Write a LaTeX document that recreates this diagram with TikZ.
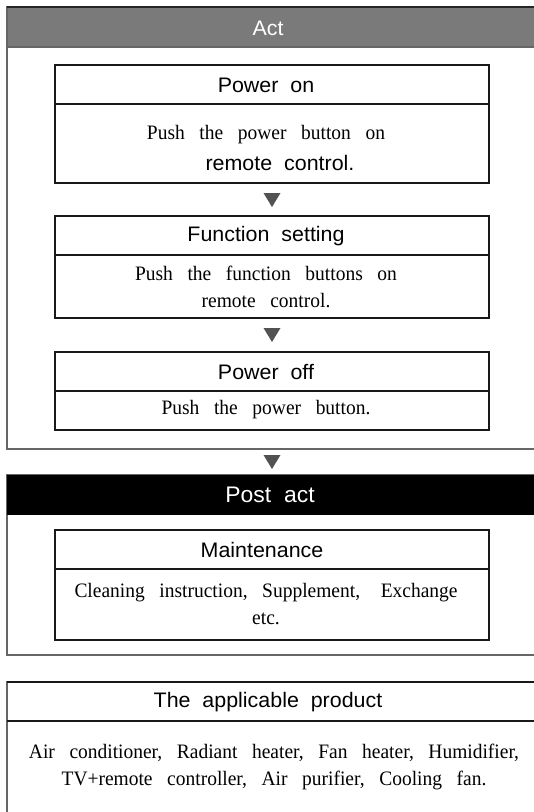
\documentclass[tikz,border=0pt]{standalone}
\usepackage{fontspec}
\usetikzlibrary{calc}
\newfontfamily\hsans[FakeStretch=1.02,WordSpace=2.0]{Liberation Sans}
\newfontfamily\hserif[FakeStretch=0.95,WordSpace=3.0]{Liberation Serif}
\begin{document}
\begin{tikzpicture}[x=1pt,y=-1pt,
  outerbox/.style={draw=black!60, line width=1.4pt, inner sep=0pt, outer sep=0pt},
  innerbox/.style={draw=black!90, line width=1.3pt, minimum width=434pt, inner sep=0pt, outer sep=0pt},
  hd/.style={font=\hsans\fontsize{21}{24}\selectfont, inner sep=0pt},
  bd/.style={font=\hserif\fontsize{20.5}{27}\selectfont, inner sep=0pt, align=center},
  tri/.style={fill=black!68},
]
\useasboundingbox (0,0) rectangle (534,812);
\clip (0,0) rectangle (534,812);

% ---------- Act ----------
\node[outerbox, minimum width=538pt, minimum height=442pt] (act) at (276,228) {};
\node[fill=black!52, draw=black!60, line width=1.4pt, minimum width=538pt, minimum height=40pt, inner sep=0pt, outer sep=0pt] (actH) at (276,27) {};
\draw[black!85, line width=1.4pt] (actH.north west) -- (actH.north east);
\node[hd, text=white] (actT) at (268,28) {Act};

% Power on
\node[innerbox, minimum height=39pt] (ponH) at (272,84.5) {};
\node[innerbox, minimum height=79pt] (ponB) at (272,143.5) {};
\node[hd] (ponT) at (266,85) {Power on};
\node[bd] (ponL1) at (266,135) {Push the power button on};
\node[hd] (ponL2) at (280,163) {remote control.};

% Function setting
\node[innerbox, minimum height=39pt] (fsH) at (272,235.5) {};
\node[innerbox, minimum height=63pt] (fsB) at (272,286.5) {};
\node[hd] (fsT) at (266,236) {Function setting};
\node[bd] (fsL) at (266,287) {Push the function buttons on\\remote control.};

% Power off
\node[innerbox, minimum height=39pt] (poffH) at (272,371.5) {};
\node[innerbox, minimum height=39pt] (poffB) at (272,410.5) {};
\node[hd] (poffT) at (266,372) {Power off};
\node[bd] (poffL) at (266,410) {Push the power button.};

% triangles
\coordinate (t1) at ($(ponB.south)+(0,10)$);
\coordinate (t2) at ($(fsB.south)+(0,10)$);
\coordinate (t3) at ($(act.south)+(-4,6)$);
\foreach \t in {t1,t2,t3}
  \fill[tri] ($(\t)+(-8.5,0)$) -- ($(\t)+(8.5,0)$) -- ($(\t)+(0,14)$) -- cycle;

% ---------- Post act ----------
\node[outerbox, minimum width=538pt, minimum height=180pt] (post) at (276,565) {};
\node[fill=black, minimum width=538pt, minimum height=40pt, inner sep=0pt, outer sep=0pt] (postH) at (276,495) {};
\node[hd, text=white, font=\hsans\fontsize{22.5}{24}\selectfont] (postT) at (270,495) {Post act};

\node[innerbox, minimum height=39pt] (mH) at (272,549.5) {};
\node[innerbox, minimum height=71pt] (mB) at (272,604.5) {};
\node[hd] (mT) at (262,550) {Maintenance};
\node[bd] (mL) at (266,604) {Cleaning instruction, Supplement,\hspace{6pt} Exchange\\etc.};

% ---------- Applicable product ----------
\node[outerbox, minimum width=538pt, minimum height=170pt] (prod) at (276,767) {};
\draw[black!90, line width=1.3pt] (prod.north west) -- (prod.north east);
\coordinate (pdl) at (7,721);
\coordinate (pdr) at (545,721);
\draw[black!90, line width=1.3pt] (pdl) -- (pdr);
\node[hd] (prodT) at (268,702) {The applicable product};
\node[bd] (prodL) at (274,767) {Air conditioner, Radiant heater, Fan heater, Humidifier,\\TV+remote controller, Air purifier, Cooling fan.};
\end{tikzpicture}
\end{document}
